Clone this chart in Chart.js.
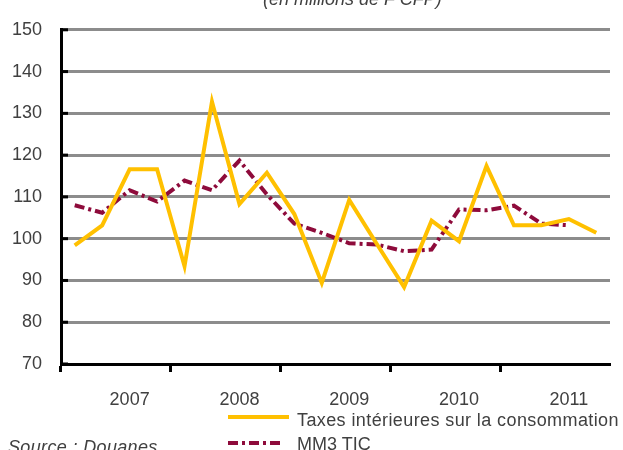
<!DOCTYPE html>
<html>
<head>
<meta charset="utf-8">
<script src="https://cdn.jsdelivr.net/npm/chart.js@4"></script>
<style>
  body { margin: 0; background: #fff; overflow: hidden; }
  #wrap { position: relative; width: 623px; height: 450px; overflow: hidden; font-family: "Liberation Sans", Arial, sans-serif; color: #404040; }
  #wrap canvas { position: absolute; left: 0; top: 0; }
  .txt { position: absolute; font-size: 18px; line-height: 18px; white-space: nowrap; }
  .it { font-style: italic; }
  svg { position: absolute; left: 0; top: 0; }
</style>
</head>
<body>
<div id="wrap">
  <canvas id="chart" width="623" height="450"></canvas>
  <div class="txt it" style="left:263px; top:-10px;">(en millions de F CFP)</div>
  <svg width="623" height="450">
    <line x1="228" y1="417" x2="289" y2="417" stroke="#FFC000" stroke-width="4"/>
    <line x1="228" y1="443" x2="284" y2="443" stroke="#8E0B3B" stroke-width="4" stroke-dasharray="10 4 3 4"/>
  </svg>
  <div class="txt" style="left:297px; top:411px; letter-spacing:0.4px;">Taxes intérieures sur la consommation</div>
  <div class="txt" style="left:297px; top:435px;">MM3 TIC</div>
  <div class="txt it" style="left:8px; top:438px; letter-spacing:0.35px;">Source : Douanes</div>
</div>
<script>
const years = [2007, 2008, 2009, 2010, 2011];
const quarters = ["T1", "T2", "T3", "T4"];
const tic = [98.4, 103.2, 116.6, 116.6, 93.4, 132.8, 108.3, 115.8, 105.9, 89.4,
             109.3, 98.8, 88.4, 104.3, 99.4, 117.4, 103.2, 103.2, 104.7, 101.4];
const mm3 = [108.0, 106.2, 111.6, 108.9, 113.9, 111.6, 118.7, 110.6, 103.6, 101.4,
             98.9, 98.6, 97.0, 97.4, 107.0, 106.8, 107.9, 103.6, 103.2, null];
const yTicks = [70, 80, 90, 100, 110, 120, 130, 140, 150];

const labels = [];
years.forEach(y => quarters.forEach(q => labels.push(q + " " + y)));

// short black ticks drawn inside the plot, on the y axis
const innerTicks = {
  id: "innerTicks",
  beforeDatasetsDraw(chart) {
    const y = chart.scales.y;
    const ctx = chart.ctx;
    const left = chart.chartArea.left;
    ctx.save();
    ctx.strokeStyle = "#000";
    ctx.lineWidth = 3;
    y.ticks.forEach(t => {
      const py = y.getPixelForValue(t.value);
      ctx.beginPath();
      ctx.moveTo(left, py);
      ctx.lineTo(left + 7, py);
      ctx.stroke();
    });
    ctx.restore();
  }
};

const ctx = document.getElementById("chart").getContext("2d");
new Chart(ctx, {
  type: "line",
  data: {
    labels: labels,
    datasets: [
      {
        label: "Taxes intérieures sur la consommation",
        data: tic,
        borderColor: "#FFC000",
        borderWidth: 4,
        pointRadius: 0,
        tension: 0,
      },
      {
        label: "MM3 TIC",
        data: mm3,
        borderColor: "#8E0B3B",
        borderWidth: 4,
        borderDash: [10, 4, 3, 4],
        pointRadius: 0,
        tension: 0,
      },
    ],
  },
  options: {
    responsive: false,
    animation: false,
    devicePixelRatio: 1,
    layout: { padding: { left: 0, top: 19, right: 13, bottom: 0 } },
    plugins: {
      legend: { display: false },
      title: { display: false },
      tooltip: { enabled: false },
    },
    scales: {
      x: {
        offset: true,
        afterFit: s => { s.height = 86; },
        grid: {
          offset: true,
          drawOnChartArea: false,
          tickLength: 8,
          tickWidth: 3,
          tickColor: c => (c.index % 4 === 0 ? "#000" : "rgba(0,0,0,0)"),
        },
        border: { color: "#000", width: 3 },
        ticks: {
          autoSkip: false,
          maxRotation: 0,
          padding: 17,
          color: "#404040",
          font: { family: "Liberation Sans", size: 18 },
          callback: (v, i) => (i % 4 === 2 ? String(years[Math.floor(i / 4)]) : ""),
        },
      },
      y: {
        min: 70,
        max: 150,
        afterFit: s => { s.width = 61; },
        afterBuildTicks: s => { s.ticks = yTicks.map(v => ({ value: v })); },
        grid: { color: "#8c8c8c", lineWidth: 3, drawTicks: false },
        border: { color: "#000", width: 3 },
        ticks: {
          padding: 19,
          color: "#404040",
          font: { family: "Liberation Sans", size: 18 },
        },
      },
    },
  },
  plugins: [innerTicks],
});
</script>
</body>
</html>
